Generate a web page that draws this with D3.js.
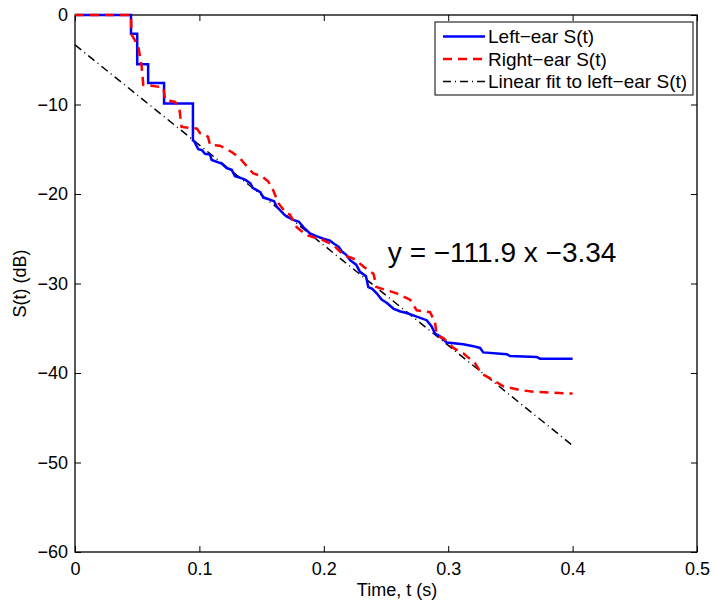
<!DOCTYPE html>
<html><head><meta charset="utf-8">
<script src="https://cdn.jsdelivr.net/npm/d3@7"></script>
<style>body{margin:0;background:#fff}svg{display:block;font-family:"Liberation Sans",Arial,sans-serif}</style>
</head><body><svg id="c" width="715" height="601"></svg>
<script>
const xTicks=[0,0.1,0.2,0.3,0.4,0.5];
const yTicks=[0,-10,-20,-30,-40,-50,-60];
const seriesNames=["Left\u2212ear S(t)","Right\u2212ear S(t)","Linear fit to left\u2212ear S(t)"];
const leftT=[0,0.045,0.045,0.050,0.050,0.0588,0.0588,0.0716,0.0716,0.0948,0.0948,0.0962,0.0991,0.1020,0.1045,0.1085,0.1099,0.1179,0.1219,0.1260,0.1286,0.1330,0.1367,0.1410,0.1428,0.1490,0.1514,0.1541,0.1600,0.1621,0.1674,0.1700,0.1755,0.1800,0.1835,0.1889,0.1940,0.1996,0.2050,0.2076,0.2120,0.2144,0.2180,0.2211,0.2260,0.2291,0.2339,0.2358,0.2390,0.2425,0.2465,0.2510,0.2559,0.2610,0.2666,0.2747,0.2827,0.2867,0.2894,0.2934,0.2988,0.3121,0.3202,0.3256,0.3282,0.3470,0.3497,0.3711,0.3738,0.4000];
const leftS=[0,0,-2.1,-2.1,-5.5,-5.5,-7.6,-7.6,-9.9,-9.9,-14.0,-14.2,-15.0,-15.1,-15.5,-15.6,-16.2,-16.6,-17.1,-17.3,-18.0,-18.2,-18.4,-18.8,-19.3,-19.8,-20.4,-20.5,-20.8,-21.4,-22.2,-22.5,-22.9,-23.1,-23.7,-24.4,-24.7,-25.0,-25.2,-25.5,-25.9,-26.4,-26.8,-27.4,-27.9,-28.7,-29.2,-30.4,-30.6,-31.1,-31.8,-32.2,-32.8,-33.1,-33.3,-33.7,-34.1,-34.8,-35.6,-35.9,-36.6,-36.8,-37.0,-37.2,-37.7,-37.9,-38.1,-38.2,-38.4,-38.4];
const rightT=[0,0.045,0.0455,0.0509,0.0536,0.0549,0.0616,0.0710,0.0725,0.0804,0.0840,0.0857,0.0981,0.1005,0.1069,0.1085,0.1165,0.1259,0.1326,0.1393,0.1433,0.1500,0.1554,0.1594,0.1634,0.1701,0.1728,0.1782,0.1862,0.1983,0.2076,0.2157,0.2251,0.2318,0.2399,0.2425,0.2586,0.2693,0.2747,0.2854,0.2894,0.2907,0.2961,0.3041,0.3121,0.3215,0.3269,0.3363,0.3443,0.3577,0.3685,0.3845,0.4000];
const rightS=[0,0,-2.2,-3.5,-5.8,-7.8,-7.9,-8.1,-9.5,-9.7,-10.6,-12.5,-12.7,-13.2,-13.6,-14.5,-14.6,-15.3,-16.0,-17.1,-17.7,-18.0,-18.6,-19.6,-21.0,-22.2,-22.3,-23.7,-24.6,-25.1,-25.7,-26.8,-27.3,-28.1,-28.9,-30.4,-31.1,-31.8,-33.0,-33.2,-34.3,-35.8,-36.1,-37.2,-37.8,-38.9,-40.1,-40.8,-41.5,-41.9,-42.1,-42.2,-42.3];
const fitSlope=-111.9, fitIntercept=-3.34;
const fitT=[0,0.4];
const fitS=fitT.map(t=>fitSlope*t+fitIntercept);
const annotation="y = \u2212111.9 x \u22123.34";

const svg=d3.select("#c");
const L=75,R=697,T=15,B=552;
const x=d3.scaleLinear().domain([0,0.5]).range([L,R]);
const y=d3.scaleLinear().domain([-60,0]).range([B,T]);
const fmtY=d=>d<0?"\u2212"+Math.abs(d):String(d);
const fmtX=d=>String(d);

const ax=svg.append("g");
ax.append("g").attr("transform",`translate(0,${B})`).call(d3.axisBottom(x).tickValues(xTicks).tickFormat(fmtX).tickSizeInner(-6).tickSizeOuter(0).tickPadding(10));
ax.append("g").attr("transform",`translate(0,${T})`).call(d3.axisTop(x).tickValues(xTicks).tickFormat("").tickSizeInner(-6).tickSizeOuter(0));
ax.append("g").attr("transform",`translate(${L},0)`).call(d3.axisLeft(y).tickValues(yTicks).tickFormat(fmtY).tickSizeInner(-6).tickSizeOuter(0).tickPadding(7));
ax.append("g").attr("transform",`translate(${R},0)`).call(d3.axisRight(y).tickValues(yTicks).tickFormat("").tickSizeInner(-6).tickSizeOuter(0));
ax.selectAll(".domain").remove();
ax.selectAll("line").attr("stroke","#000").attr("stroke-width",1);
ax.selectAll("text").attr("font-size",18).attr("fill","#000").attr("font-family","Liberation Sans, Arial, sans-serif");
svg.append("rect").attr("x",L).attr("y",T).attr("width",R-L).attr("height",B-T).attr("fill","none").attr("stroke","#000").attr("stroke-width",1.3);

const line=d3.line().x(d=>x(d[0])).y(d=>y(d[1]));
const g=svg.append("g");
g.append("path").datum(fitT.map((t,i)=>[t,fitS[i]])).attr("d",line).attr("fill","none").attr("stroke","#000").attr("stroke-width",1.5).attr("stroke-dasharray","8,4,1,4");
g.append("path").datum(leftT.map((t,i)=>[t,leftS[i]])).attr("d",line).attr("fill","none").attr("stroke","#0000ff").attr("stroke-width",2.5).attr("stroke-linejoin","miter");
g.append("path").datum(rightT.map((t,i)=>[t,rightS[i]])).attr("d",line).attr("fill","none").attr("stroke","#ff0000").attr("stroke-width",2.5).attr("stroke-dasharray","9,6");

svg.append("text").attr("x",x(0.2515)).attr("y",262).attr("font-size",28).attr("fill","#000").text(annotation);

svg.append("text").attr("x",(L+R)/2+11).attr("y",596).attr("text-anchor","middle").attr("font-size",18).text("Time, t (s)");
svg.append("text").attr("transform",`translate(26,${(T+B)/2}) rotate(-90)`).attr("text-anchor","middle").attr("font-size",18).text("S(t) (dB)");

const lg=svg.append("g");
lg.append("rect").attr("x",435).attr("y",22).attr("width",258).attr("height",73).attr("fill","#fff").attr("stroke","#000").attr("stroke-width",1);
const styles=[{c:"#0000ff",w:2.5,d:null},{c:"#ff0000",w:2.5,d:"9,6"},{c:"#000",w:1.5,d:"8,4,1,4"}];
seriesNames.forEach((n,i)=>{
  const yy=36.5+i*22.5;
  const l=lg.append("line").attr("x1",443).attr("x2",485).attr("y1",yy).attr("y2",yy).attr("stroke",styles[i].c).attr("stroke-width",styles[i].w);
  if(styles[i].d) l.attr("stroke-dasharray",styles[i].d);
  lg.append("text").attr("x",488).attr("y",yy+6.5).attr("font-size",19).text(n);
});
</script></body></html>
